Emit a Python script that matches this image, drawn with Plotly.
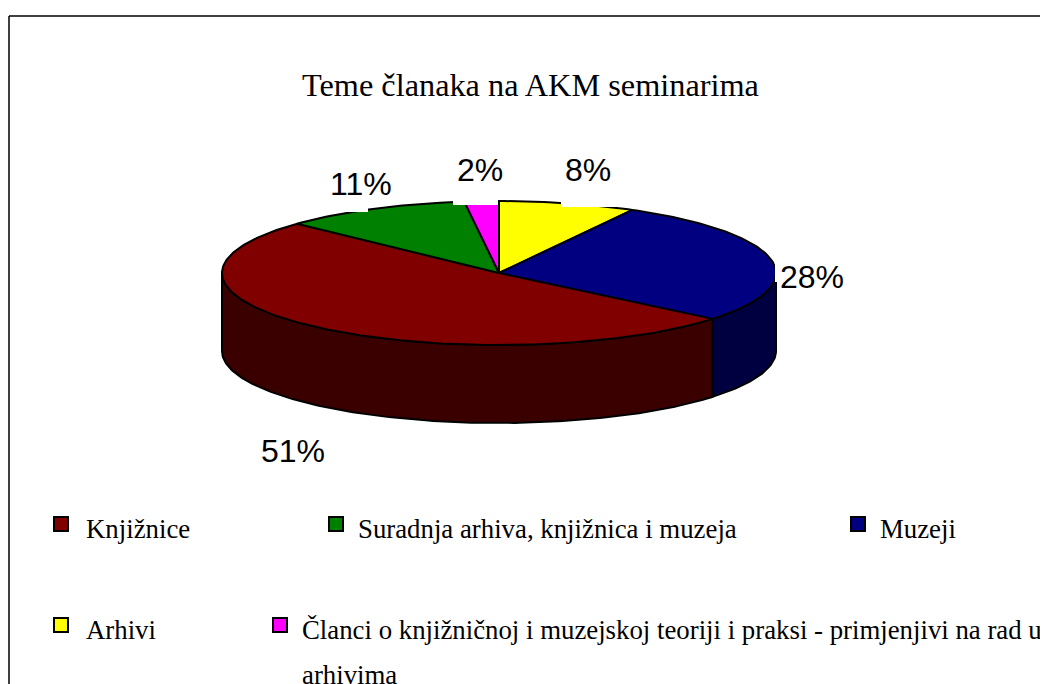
"""
3D-style pie of article topics, drawn on pixel-like axes because plotly's
own pie trace cannot tilt.
"""
import numpy as np
import plotly.graph_objects as go

TITLE = "Teme članaka na AKM seminarima"

# clockwise from 12 o'clock
categories = ["Arhivi", "Muzeji", "Knjižnice", "Suradnja arhiva, knjižnica i muzeja",
              "Članci o knjižničnoj i muzejskoj teoriji i praksi - primjenjivi na rad u<br>arhivima"]
values = [8, 28, 51, 11, 2]
top_colors = ["#ffff00", "#000080", "#800000", "#008000", "#ff00ff"]
side_colors = ["#808000", "#000040", "#3a0000", "#004000", "#800080"]

# pie geometry on the 1048x684 page
CX, CY = 499, 273
RX, RY = 277, 72
DEPTH = 78

SERIF = "Liberation Serif"
SANS = "Liberation Sans"


def edge(a0, a1):
    # a is in degrees clockwise from the top of the ellipse
    a = np.radians(np.linspace(a0, a1, max(int(abs(a1 - a0)), 2) + 1))
    return CX + RX * np.sin(a), CY - RY * np.cos(a)


total = sum(values)
stops = np.concatenate([[0], np.cumsum(values)]) * 360 / total

fig = go.Figure()

# side wall first, only the front half (90-270 deg) shows
for i in range(len(values)):
    a0, a1 = max(stops[i], 90), min(stops[i + 1], 270)
    if a1 <= a0:
        continue
    xs, ys = edge(a0, a1)
    fig.add_trace(go.Scatter(
        x=np.concatenate([xs, xs[::-1], xs[:1]]),
        y=np.concatenate([ys, ys[::-1] + DEPTH, ys[:1]]),
        mode="lines", fill="toself", fillcolor=side_colors[i],
        line=dict(color="black", width=2), hoverinfo="skip", showlegend=False,
    ))

for i, cat in enumerate(categories):
    xs, ys = edge(stops[i], stops[i + 1])
    fig.add_trace(go.Scatter(
        x=np.concatenate([[CX], xs, [CX]]),
        y=np.concatenate([[CY], ys, [CY]]),
        mode="lines", fill="toself", fillcolor=top_colors[i],
        line=dict(color="black", width=2), name=cat, showlegend=False,
    ))

# percent labels
label_x = [588, 812, 293, 361, 480]
label_y = [170, 277, 451, 184, 170]
for i, v in enumerate(values):
    fig.add_annotation(x=label_x[i], y=label_y[i], text=f"{v}%", showarrow=False,
                       font=dict(family=SANS, size=32, color="black"))

# the labels' white boxes bite into the pie edge in the original
for x0, x1, y0, y1 in [(561, 620, 150, 207), (775, 845, 258, 282),
                       (329, 368, 165, 212), (453, 498, 150, 205)]:
    fig.add_shape(type="rect", x0=x0, x1=x1, y0=y0, y1=y1,
                  fillcolor="white", line=dict(width=0), layer="above")

# legend is laid out by hand: two uneven rows, line gap wider than plotly's
legend_order = [2, 3, 1, 0, 4]
legend_mark_x = [61, 336, 858, 61, 280]
legend_mark_y = [524, 524, 524, 625, 625]
legend_text_x = [84, 356, 878, 84, 300]
LINE_GAP = 45
for k, i in enumerate(legend_order):
    fig.add_trace(go.Scatter(
        x=[legend_mark_x[k]], y=[legend_mark_y[k]], mode="markers",
        marker=dict(symbol="square", size=14, color=top_colors[i],
                    line=dict(color="black", width=2)),
        hoverinfo="skip", showlegend=False,
    ))
    for n, line in enumerate(categories[i].split("<br>")):
        fig.add_annotation(x=legend_text_x[k], y=legend_mark_y[k] + 5 + n * LINE_GAP,
                           text=line, showarrow=False, xanchor="left", align="left",
                           font=dict(family=SERIF, size=26.8, color="black"))

fig.add_annotation(x=530, y=85, text=TITLE, showarrow=False,
                   font=dict(family=SERIF, size=32.3, color="black"))

# chart frame runs off the right and bottom of the page
fig.add_shape(type="line", x0=9, x1=9, y0=16, y1=684, line=dict(color="black", width=1.5))
fig.add_shape(type="line", x0=9, x1=1048, y0=16, y1=16, line=dict(color="black", width=1.5))

# the page body keeps its 8px margin, so the axes start at 8
fig.update_xaxes(range=[8, 1048], visible=False)
fig.update_yaxes(range=[684, 8], visible=False)
fig.update_layout(
    width=1040, height=676,
    margin=dict(l=0, r=0, t=0, b=0),
    paper_bgcolor="white", plot_bgcolor="white",
)

fig.write_html("out.html")
